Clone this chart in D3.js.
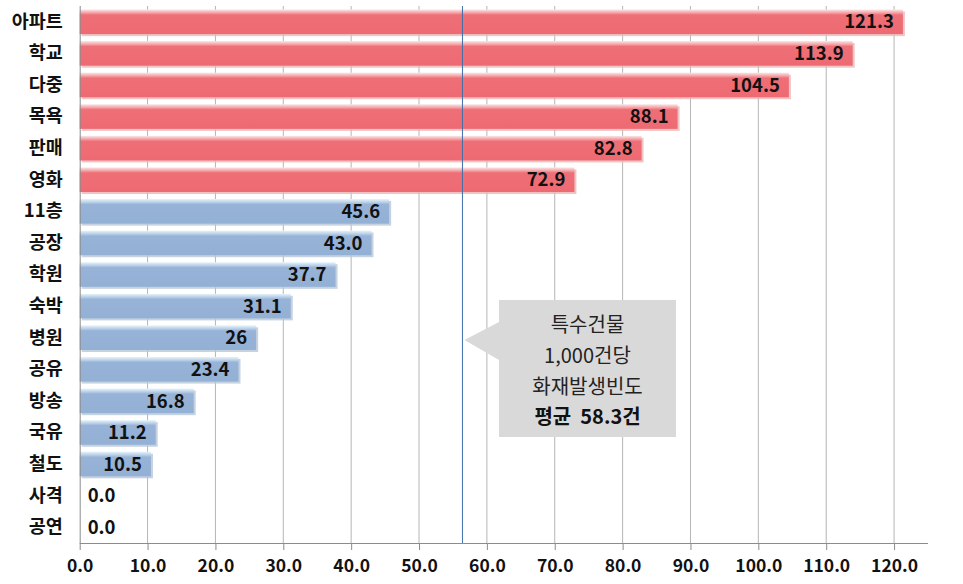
<!DOCTYPE html>
<html><head><meta charset="utf-8">
<script src="https://cdn.jsdelivr.net/npm/d3@7"></script>
<style>
html,body{margin:0;padding:0;background:#fff;}
svg{display:block;}
text{font-family:"Noto Sans CJK KR","Noto Sans",sans-serif;}
</style></head><body>
<svg id="chart" width="963" height="584"></svg>
<script>
const categories = ["아파트","학교","다중","목욕","판매","영화","11층","공장","학원","숙박","병원","공유","방송","국유","철도","사격","공연"];
const values = [121.3,113.9,104.5,88.1,82.8,72.9,45.6,43.0,37.7,31.1,26,23.4,16.8,11.2,10.5,0.0,0.0];
const valueLabels = ["121.3","113.9","104.5","88.1","82.8","72.9","45.6","43.0","37.7","31.1","26","23.4","16.8","11.2","10.5","0.0","0.0"];
const groups = ["high","high","high","high","high","high","low","low","low","low","low","low","low","low","low","low","low"];
const xTicks = [0,10,20,30,40,50,60,70,80,90,100,110,120];
const meanLineValue = 56.4;
const calloutLines = ["특수건물","1,000건당","화재발생빈도"];
const calloutBold = "평균  58.3건";

const svg = d3.select("#chart");
const m = {left:79.7, right:928, top:6, bottom:543};
const x = d3.scaleLinear().domain([0,125]).range([m.left, m.right]);
const y = d3.scaleBand().domain(categories).range([m.top, m.bottom]).paddingInner(0.22).paddingOuter(0.11);

const defs = svg.append("defs");
function grad(id, c0, c1, c2, c3){
  const g = defs.append("linearGradient").attr("id",id).attr("x1",0).attr("y1",0).attr("x2",0).attr("y2",1);
  g.append("stop").attr("offset","0%").attr("stop-color",c0);
  g.append("stop").attr("offset","14%").attr("stop-color",c1);
  g.append("stop").attr("offset","22%").attr("stop-color",c2);
  g.append("stop").attr("offset","100%").attr("stop-color",c3);
}
grad("gHigh","#fbe6e6","#f4a0a4","#ef6f77","#ee6a72");
grad("gLow","#e6f5fb","#b8cde6","#97b3d7","#93b0d5");
const color = {high:"url(#gHigh)", low:"url(#gLow)"};
const shadow = {high:"#e8b7b9", low:"#b9c7d8"};

// gridlines
svg.append("g").selectAll("line").data(xTicks.filter(d=>d>0)).join("line")
  .attr("x1",d=>x(d)).attr("x2",d=>x(d)).attr("y1",m.top).attr("y2",m.bottom)
  .attr("stroke","#b5b5b5").attr("stroke-width",1);

// bars
const data = categories.map((c,i)=>({c, v:values[i], lab:valueLabels[i], g:groups[i]}));
const bars = svg.append("g");
bars.selectAll("rect.sh").data(data.filter(d=>d.v>0)).join("rect")
  .attr("x",x(0)+2).attr("y",d=>y(d.c)+2)
  .attr("width",d=>x(d.v)-x(0)).attr("height",y.bandwidth())
  .attr("fill",d=>shadow[d.g]).attr("opacity",0.8);
bars.selectAll("rect.b").data(data.filter(d=>d.v>0)).join("rect")
  .attr("x",x(0)).attr("y",d=>y(d.c))
  .attr("width",d=>x(d.v)-x(0)).attr("height",y.bandwidth())
  .attr("fill",d=>color[d.g]);

// mean line
svg.append("line").attr("x1",x(meanLineValue)).attr("x2",x(meanLineValue))
  .attr("y1",m.top).attr("y2",m.bottom).attr("stroke","#3f6fa8").attr("stroke-width",1);

// axes
const xAxis = d3.axisBottom(x).tickValues(xTicks).tickFormat(d3.format(".1f")).tickSize(7).tickPadding(10);
const gx = svg.append("g").attr("transform",`translate(0,${m.bottom})`).call(xAxis);
gx.select(".domain").attr("stroke","#8c8c8c").attr("d",`M${m.left},0.5H${m.right}`);
gx.selectAll(".tick line").attr("stroke","#8c8c8c");
gx.selectAll(".tick text").attr("fill","#111").attr("font-size",17.5).attr("font-weight","bold")
  .attr("font-family","'Open Sans','Noto Sans',sans-serif");

const yAxis = d3.axisLeft(y).tickSize(0).tickPadding(17);
const gy = svg.append("g").attr("transform",`translate(${m.left},0)`).call(yAxis);
gy.select(".domain").attr("stroke","#8c8c8c").attr("d",`M0.5,${m.top}V${m.bottom}`);
gy.selectAll(".tick text").attr("fill","#111").attr("font-size",18.5).attr("font-weight","bold");

// value labels
svg.append("g").selectAll("text").data(data).join("text")
  .attr("x",d=>d.v>0 ? x(d.v)-9 : x(0)+8)
  .attr("y",d=>y(d.c)+y.bandwidth()/2)
  .attr("dy","0.36em")
  .attr("text-anchor",d=>d.v>0?"end":"start")
  .attr("font-size",18.5).attr("font-weight","bold").attr("fill","#111")
  .attr("font-family","'Open Sans','Noto Sans',sans-serif")
  .text(d=>d.lab);

// callout
const bx0=499, bx1=676, by0=300, by1=437, tipX=x(meanLineValue)+2, tipY=340;
svg.append("path")
  .attr("d",`M${bx0},${by0}H${bx1}V${by1}H${bx0}V360L${tipX},${tipY}L${bx0},322Z`)
  .attr("fill","#d9d9d9");
const cx=(bx0+bx1)/2;
calloutLines.forEach((t,i)=>{
  svg.append("text").attr("x",cx).attr("y",325+i*31).attr("dy","0.36em")
    .attr("text-anchor","middle").attr("font-size",20).attr("fill","#222").text(t);
});
svg.append("text").attr("x",cx).attr("y",417).attr("dy","0.36em")
  .attr("text-anchor","middle").attr("font-size",20).attr("font-weight","bold").attr("fill","#111")
  .attr("xml:space","preserve").style("white-space","pre").text(calloutBold);
</script>
</body></html>
